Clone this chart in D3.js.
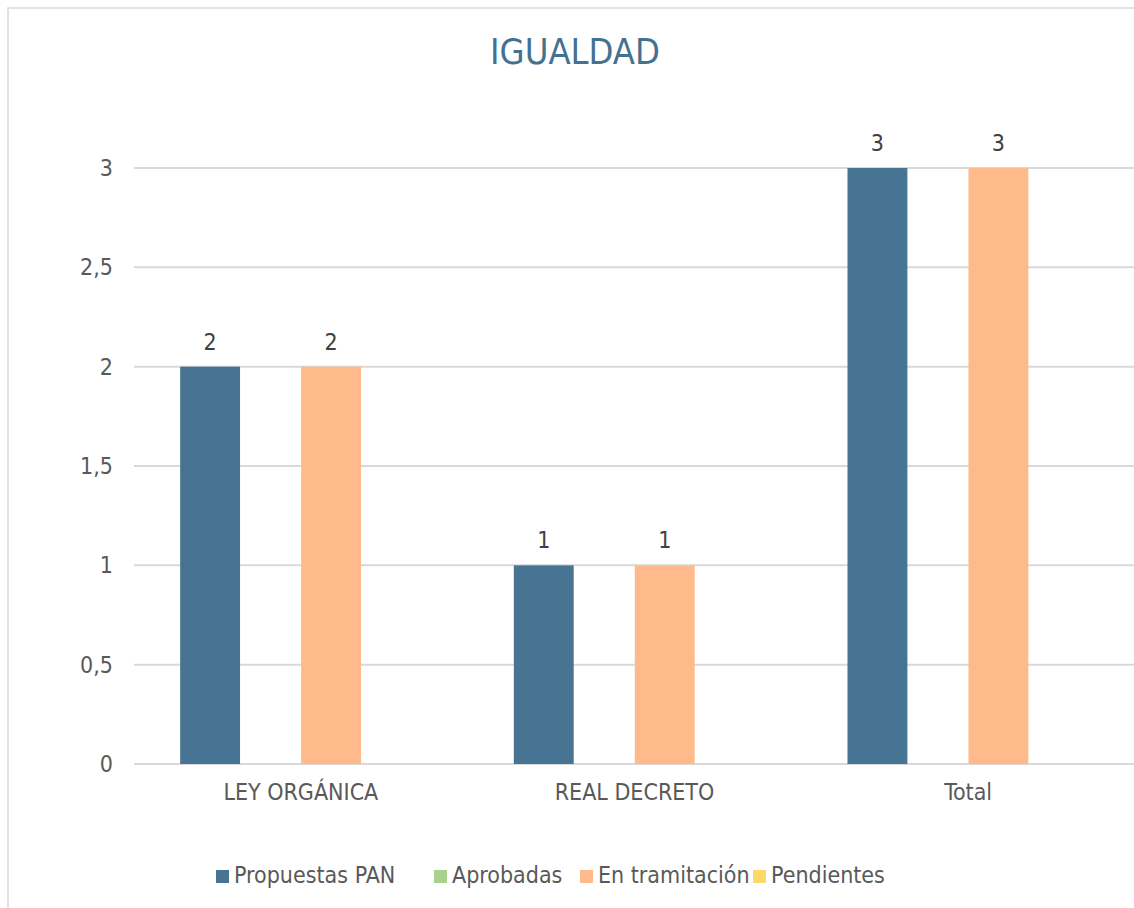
<!DOCTYPE html>
<html>
<head>
<meta charset="utf-8">
<script src="https://cdn.jsdelivr.net/npm/d3@7"></script>
<style>
    html, body { margin: 0; padding: 0; background: #fff; }
    svg text { font-family: "DejaVu Sans Condensed", "DejaVu Sans", sans-serif; }
</style>
</head>
<body>
<div id="chart"></div>
<script>
'use strict'

// data
const categories = ['LEY ORGÁNICA', 'REAL DECRETO', 'Total']
const seriesNames = ['Propuestas PAN', 'Aprobadas', 'En tramitación', 'Pendientes']
const seriesColors = ['#467492', '#a9d18e', '#ffba8b', '#ffd966']
const propuestas = [2, 1, 3]
const aprobadas = [0, 0, 0]
const enTramitacion = [2, 1, 3]
const pendientes = [0, 0, 0]
const yTicks = [0, 0.5, 1, 1.5, 2, 2.5, 3]

const values = [propuestas, aprobadas, enTramitacion, pendientes]

////////////////////////////////////
//////////// svg setup /////////////
////////////////////////////////////

const svgWidth = 1134
const svgHeight = 908

const plot = { left: 134, right: 1135, top: 168, bottom: 764 }

const svg = d3.select('#chart')
    .append('svg')
    .attr('width', svgWidth)
    .attr('height', svgHeight)

// chart frame (cut off at the right and bottom like the reference)
svg.append('rect')
    .attr('x', 8)
    .attr('y', 8)
    .attr('width', svgWidth + 20)
    .attr('height', svgHeight + 20)
    .attr('fill', '#fff')
    .attr('stroke', '#d9d9d9')
    .attr('stroke-width', 1.5)

////////////////////////////////////
////////////// scales //////////////
////////////////////////////////////

const x = d3.scaleBand()
    .domain(categories)
    .range([plot.left, plot.right])
    .paddingInner(0.273)
    .paddingOuter(0.1365)

const xSub = d3.scaleBand()
    .domain(seriesNames)
    .range([0, x.bandwidth()])
    .padding(0.01)

const y = d3.scaleLinear()
    .domain([0, 3])
    .range([plot.bottom, plot.top])

////////////////////////////////////
/////////////// grid ///////////////
////////////////////////////////////

svg.append('g')
    .selectAll('line')
    .data(yTicks)
    .join('line')
    .attr('x1', plot.left)
    .attr('x2', plot.right)
    .attr('y1', d => y(d))
    .attr('y2', d => y(d))
    .attr('stroke', '#d9d9d9')
    .attr('stroke-width', 2)

// y tick labels
svg.append('g')
    .selectAll('text')
    .data(yTicks)
    .join('text')
    .attr('x', 113)
    .attr('y', d => y(d) + 8)
    .attr('text-anchor', 'end')
    .attr('font-size', 23)
    .attr('fill', '#595959')
    .text(d => String(d).replace('.', ','))

////////////////////////////////////
/////////////// bars ///////////////
////////////////////////////////////

const rows = []
categories.forEach((c, i) => {
    seriesNames.forEach((s, j) => {
        rows.push({ cat: c, series: s, value: values[j][i], color: seriesColors[j] })
    })
})

const shown = rows.filter(d => d.value > 0)

svg.append('g')
    .selectAll('rect')
    .data(shown)
    .join('rect')
    .attr('x', d => x(d.cat) + xSub(d.series))
    .attr('y', d => y(d.value))
    .attr('width', xSub.bandwidth())
    .attr('height', d => y(0) - y(d.value))
    .attr('fill', d => d.color)

// data labels
svg.append('g')
    .selectAll('text')
    .data(shown)
    .join('text')
    .attr('x', d => x(d.cat) + xSub(d.series) + xSub.bandwidth() / 2)
    .attr('y', d => y(d.value) - 17)
    .attr('text-anchor', 'middle')
    .attr('font-size', 23)
    .attr('fill', '#404040')
    .text(d => d.value)

// category labels
svg.append('g')
    .selectAll('text')
    .data(categories)
    .join('text')
    .attr('x', d => x(d) + x.bandwidth() / 2)
    .attr('y', 800)
    .attr('text-anchor', 'middle')
    .attr('font-size', 23)
    .attr('fill', '#595959')
    .text(d => d)

////////////////////////////////////
/////////////// title //////////////
////////////////////////////////////

svg.append('text')
    .attr('x', 575)
    .attr('y', 64)
    .attr('text-anchor', 'middle')
    .attr('font-size', 36)
    .attr('fill', '#44718f')
    .text('IGUALDAD')

////////////////////////////////////
////////////// legend //////////////
////////////////////////////////////

const legendX = [216, 434, 580, 753]

const legend = svg.append('g')
    .selectAll('g')
    .data(seriesNames)
    .join('g')
    .attr('transform', (d, i) => `translate(${legendX[i]},870)`)

legend.append('rect')
    .attr('width', 13)
    .attr('height', 13)
    .attr('fill', (d, i) => seriesColors[i])

legend.append('text')
    .attr('x', 18)
    .attr('y', 13)
    .attr('font-size', 23)
    .attr('fill', '#595959')
    .text(d => d)
</script>
</body>
</html>
